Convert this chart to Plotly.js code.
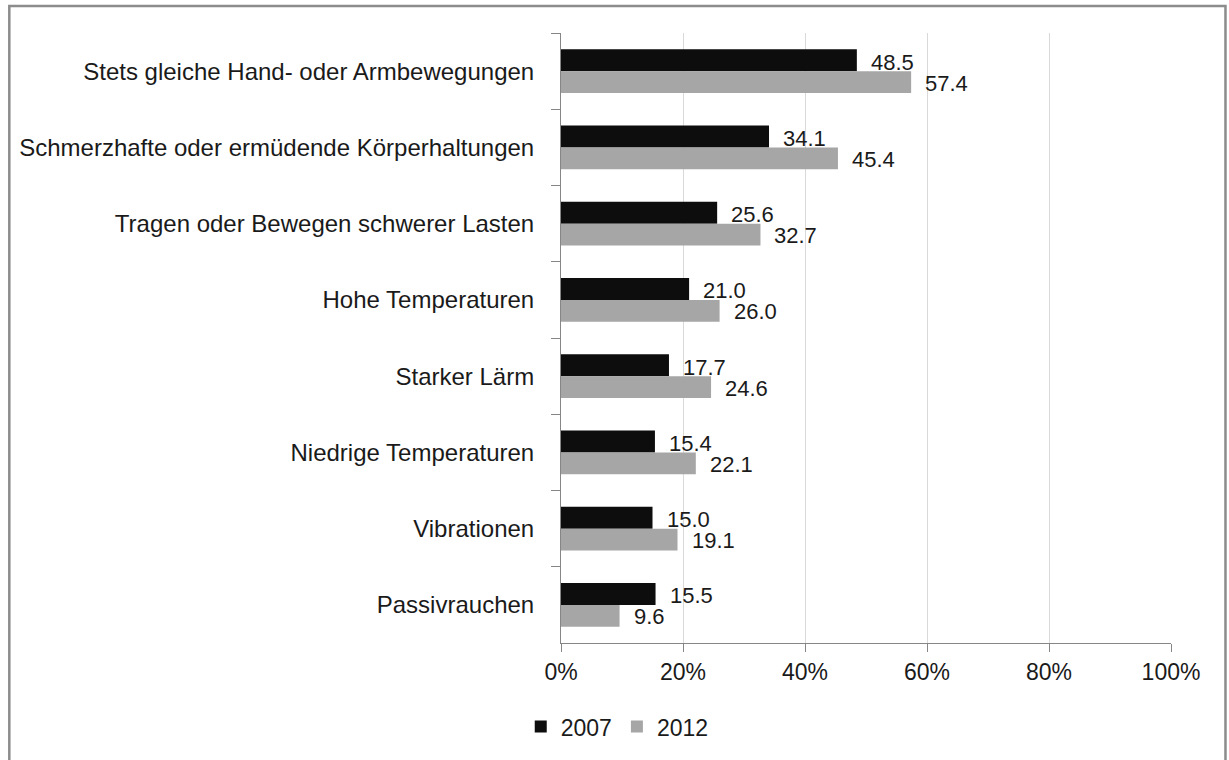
<!DOCTYPE html>
<html>
<head>
<meta charset="utf-8">
<script src="https://cdn.plot.ly/plotly-3.0.1.min.js"></script>
<style>
  html, body { margin: 0; padding: 0; background: #ffffff; }
  #chart { width: 1229px; height: 760px; }
</style>
</head>
<body>
<div id="chart"></div>
<script>
const categories = [
  "Stets gleiche Hand- oder Armbewegungen",
  "Schmerzhafte oder ermüdende Körperhaltungen",
  "Tragen oder Bewegen schwerer Lasten",
  "Hohe Temperaturen",
  "Starker Lärm",
  "Niedrige Temperaturen",
  "Vibrationen",
  "Passivrauchen"
];
const values2007 = [48.5, 34.1, 25.6, 21.0, 17.7, 15.4, 15.0, 15.5];
const values2012 = [57.4, 45.4, 32.7, 26.0, 24.6, 22.1, 19.1, 9.6];
const seriesNames = ["2007", "2012"];
const xTickValues = [0, 20, 40, 60, 80, 100];
const xTickLabels = ["0%", "20%", "40%", "60%", "80%", "100%"];

const FONT = "'Liberation Sans', Arial, sans-serif";
const TEXT = "#1a1a1a";
const colors = ["#0d0d0d", "#a6a6a6"];

const traces = [values2007, values2012].map((vals, i) => ({
  type: "bar",
  orientation: "h",
  name: seriesNames[i],
  y: categories,
  x: vals,
  marker: { color: colors[i], line: { width: 0 } },
  hoverinfo: "x+y"
}));

const annotations = [];
[values2007, values2012].forEach((vals, i) => {
  vals.forEach((v, k) => {
    annotations.push({
      x: v, y: categories[k], xref: "x", yref: "y",
      text: v.toFixed(1), showarrow: false,
      xanchor: "left", yanchor: "middle",
      xshift: 12, yshift: i === 0 ? 9 : -12,
      font: { family: FONT, size: 22, color: TEXT }
    });
  });
});

const layout = {
  width: 1229, height: 760,
  paper_bgcolor: "#ffffff", plot_bgcolor: "#ffffff",
  margin: { l: 561, r: 58, t: 33, b: 115 },
  barmode: "group",
  bargap: 0.425, bargroupgap: 0,
  font: { family: FONT, color: TEXT },
  showlegend: true,
  legend: {
    orientation: "h",
    x: -0.066, xanchor: "left",
    y: -0.137, yanchor: "middle",
    font: { family: FONT, size: 23, color: TEXT },
    traceorder: "normal",
    itemwidth: 30
  },
  xaxis: {
    range: [0, 100],
    tickmode: "array",
    tickvals: xTickValues,
    ticktext: xTickLabels,
    showgrid: true, gridcolor: "#d9d9d9", gridwidth: 1,
    zeroline: false,
    showline: true, linecolor: "#868686", linewidth: 1,
    ticks: "outside", ticklen: 8, tickcolor: "#868686",
    tickfont: { family: FONT, size: 23, color: TEXT },
    fixedrange: true
  },
  yaxis: {
    type: "category",
    autorange: "reversed",
    showgrid: false, zeroline: false,
    showline: true, linecolor: "#868686", linewidth: 1,
    ticks: "outside", ticklen: 9, tickcolor: "#868686",
    tickson: "boundaries",
    ticklabelstandoff: 21,
    tickfont: { family: FONT, size: 24, color: TEXT },
    fixedrange: true
  },
  annotations: annotations,
  shapes: [{
    type: "rect", xref: "paper", yref: "paper",
    x0: -0.9044, x1: 1.0893, y0: -0.2, y1: 1.0441,
    line: { color: "#8c8c8c", width: 2.5 }, fillcolor: "rgba(0,0,0,0)",
    layer: "below"
  }]
};

Plotly.newPlot("chart", traces, layout, { displayModeBar: false, staticPlot: true });
</script>
</body>
</html>
